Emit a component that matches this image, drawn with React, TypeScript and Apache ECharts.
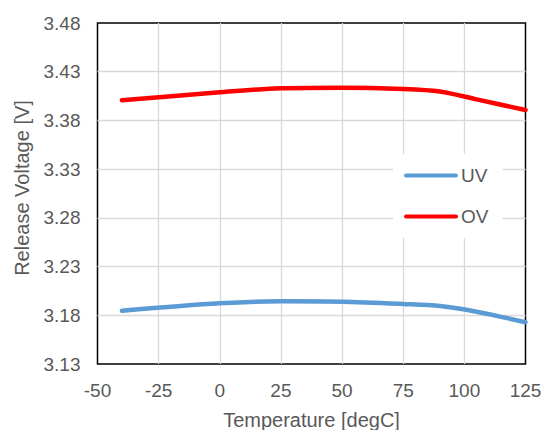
import React, { useEffect, useRef } from "react";
import * as echarts from "echarts";

const temps = [-40, 0, 25, 50, 75, 90, 105, 125];
const uvValues = [3.1847, 3.1923, 3.1944, 3.194, 3.1916, 3.1895, 3.1837, 3.1728];
const ovValues = [3.4007, 3.4089, 3.413, 3.4136, 3.4123, 3.4097, 3.4016, 3.3907];
const seriesNames = ["UV", "OV"];
const Y_BASE = 3.13;
const Y_TOP = 3.48;
const Y_STEP = 0.05;
const X_MIN = -50;
const X_MAX = 125;
const X_STEP = 25;

const FONT = "'Liberation Sans', Arial, sans-serif";
const TEXT_COLOR = "#595959";
const LEGEND_ICON = "path://M2,0 L52,0 A2,2 0 0 1 52,4 L2,4 A2,2 0 0 1 2,0 Z";

export default function App() {
  const ref = useRef<HTMLDivElement>(null);
  useEffect(() => {
    document.body.style.margin = "0";
    if (!ref.current) return;
    const chart = echarts.init(ref.current, undefined, { renderer: "svg" });
    const toPairs = (vals: number[]) => temps.map((t, i) => [t, +(vals[i] - Y_BASE).toFixed(5)]);
    chart.setOption({
      animation: false,
      textStyle: { fontFamily: FONT },
      grid: {
        left: 97.5,
        right: 19.5,
        top: 23,
        bottom: 66,
        containLabel: false,
        outerBoundsMode: "none",
        show: true,
        borderColor: "#000",
        borderWidth: 1.5,
        backgroundColor: "transparent",
      },
      legend: {
        orient: "vertical",
        left: 393,
        top: 154,
        backgroundColor: "#fff",
        padding: [12, 14, 12, 11],
        itemWidth: 54,
        itemHeight: 4.5,
        itemGap: 22,
        icon: LEGEND_ICON,
        textStyle: { fontSize: 19, color: TEXT_COLOR, fontFamily: FONT, padding: [0, 0, 0, -2] },
        data: seriesNames,
      },
      xAxis: {
        type: "value",
        min: X_MIN,
        max: X_MAX,
        interval: X_STEP,
        name: "Temperature [degC]",
        nameLocation: "middle",
        nameGap: 46,
        nameTextStyle: { fontSize: 20, color: TEXT_COLOR, fontFamily: FONT },
        axisLine: { show: false },
        axisTick: { show: false },
        axisLabel: { fontSize: 19, color: TEXT_COLOR, margin: 17, fontFamily: FONT },
        splitLine: { show: true, showMinLine: false, showMaxLine: false, lineStyle: { color: "#d9d9d9", width: 1.3 } },
      },
      yAxis: {
        type: "value",
        min: 0,
        max: +(Y_TOP - Y_BASE).toFixed(2),
        interval: Y_STEP,
        name: "Release Voltage [V]",
        nameLocation: "middle",
        nameGap: 66,
        nameTextStyle: { fontSize: 20, color: TEXT_COLOR, fontFamily: FONT, padding: [0, 0, 0, 11] },
        axisLine: { show: false },
        axisTick: { show: false },
        axisLabel: {
          fontSize: 19,
          color: TEXT_COLOR,
          margin: 17,
          fontFamily: FONT,
          formatter: (v: number) => (v + Y_BASE).toFixed(2),
        },
        splitLine: { show: true, showMinLine: false, showMaxLine: false, lineStyle: { color: "#d9d9d9", width: 1.3 } },
      },
      series: [
        {
          name: seriesNames[0],
          type: "line",
          data: toPairs(uvValues),
          smooth: 0.3,
          symbol: "none",
          color: "#5B9BD5",
          lineStyle: { width: 4.5, color: "#5B9BD5", cap: "round" },
        },
        {
          name: seriesNames[1],
          type: "line",
          data: toPairs(ovValues),
          smooth: 0.3,
          symbol: "none",
          color: "#FF0000",
          lineStyle: { width: 4.5, color: "#FF0000", cap: "round" },
        },
      ],
    });
    return () => chart.dispose();
  }, []);
  return <div ref={ref} style={{ width: 545, height: 430 }} />;
}
